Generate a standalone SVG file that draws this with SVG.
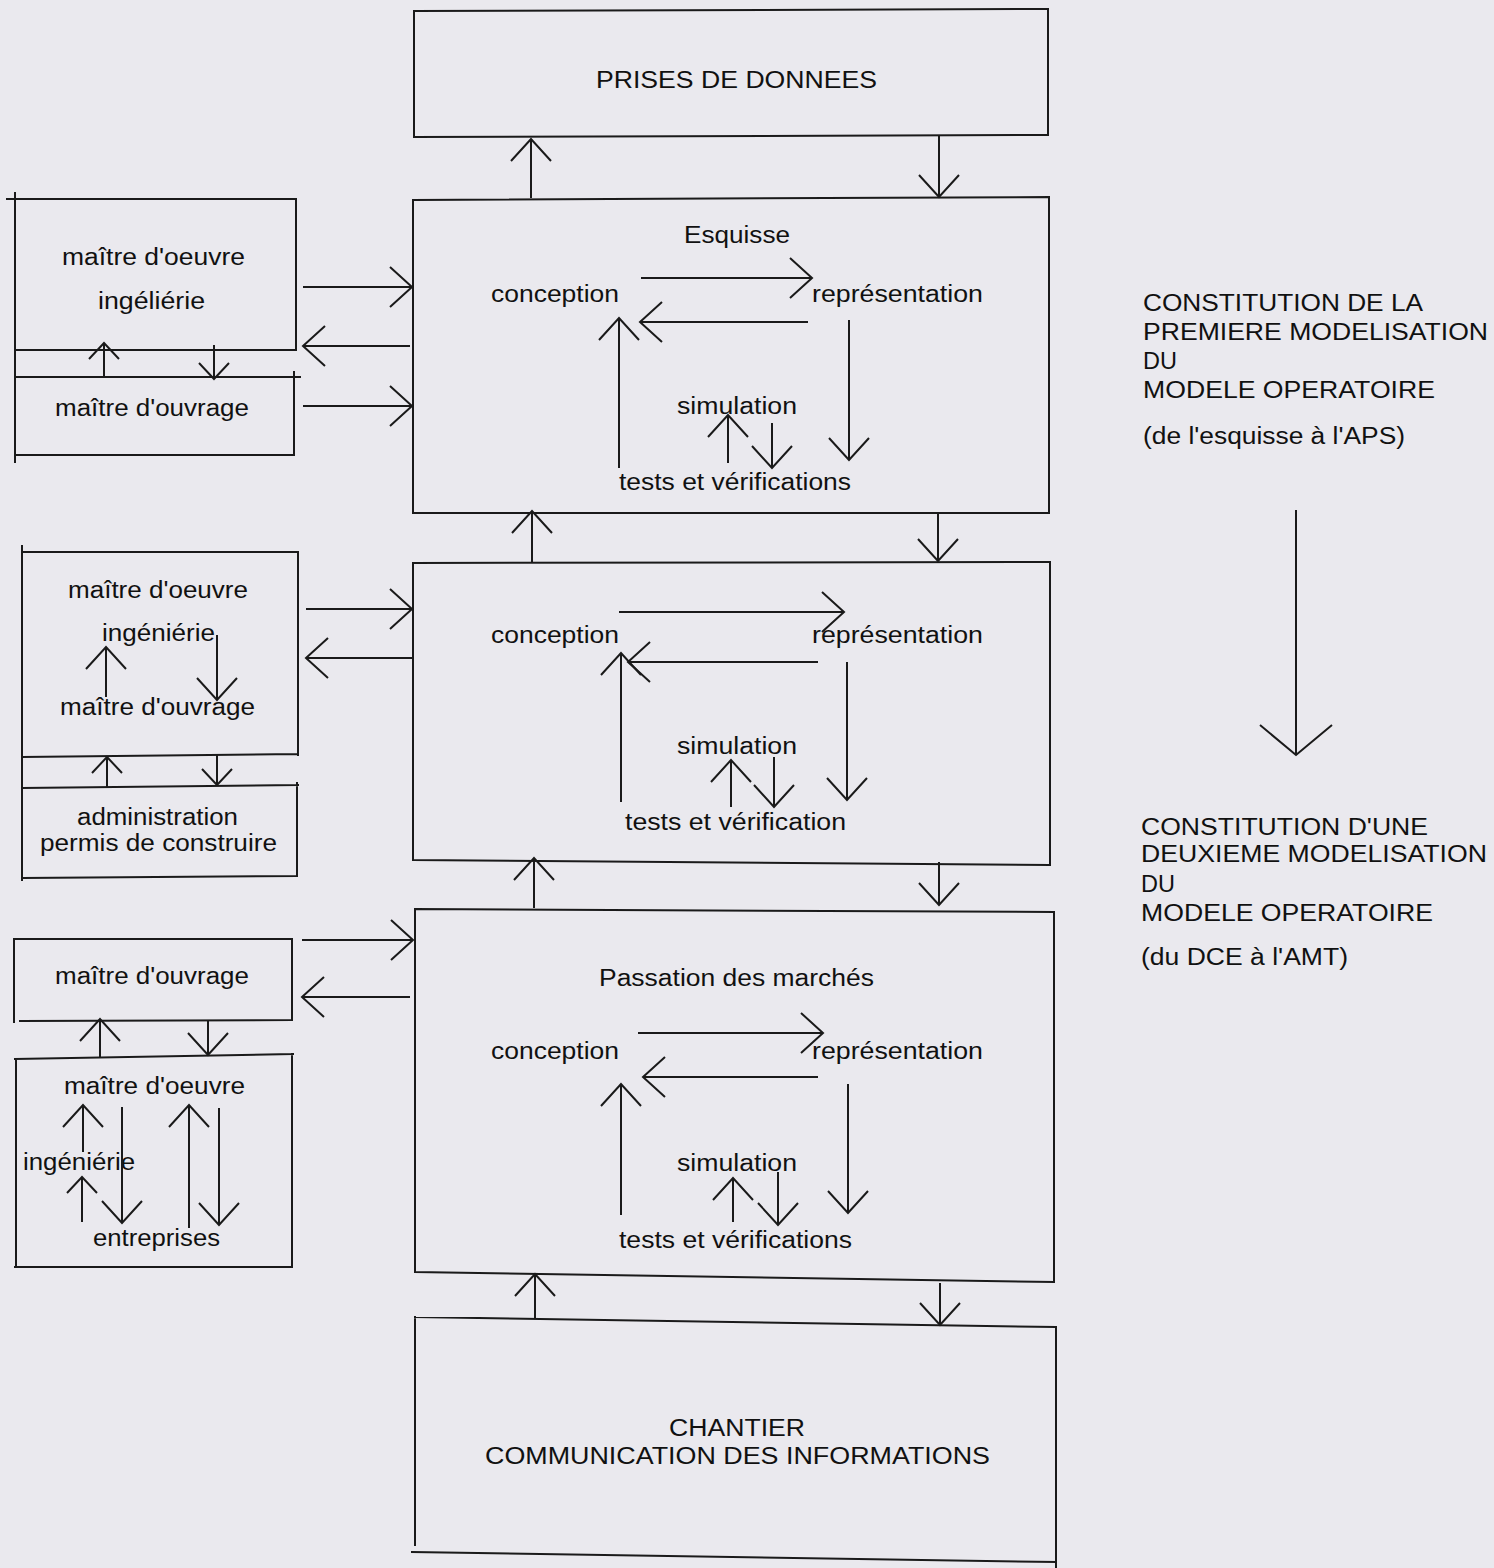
<svg xmlns="http://www.w3.org/2000/svg" width="1494" height="1568" viewBox="0 0 1494 1568">
<style>
.ln{fill:none;stroke:#1a1a1a;stroke-width:2;stroke-linecap:square}
.ar{fill:none;stroke:#1a1a1a;stroke-width:2;marker-end:url(#ah)}
.as{fill:none;stroke:#1a1a1a;stroke-width:2;marker-end:url(#as)}
.ab{fill:none;stroke:#1a1a1a;stroke-width:2;marker-end:url(#ab)}
text{font-family:"Liberation Sans",Arial,Helvetica,sans-serif;font-size:23.5px;fill:#111}
</style>
<defs>
<marker id="ah" markerUnits="userSpaceOnUse" viewBox="-2 -2 26 44" markerWidth="26" markerHeight="44" refX="22" refY="20" orient="auto">
<path d="M0,0 L22,20 L0,40" fill="none" stroke="#1a1a1a" stroke-width="2"/>
</marker>
<marker id="as" markerUnits="userSpaceOnUse" viewBox="-2 -2 20 34" markerWidth="20" markerHeight="34" refX="16" refY="15" orient="auto">
<path d="M0,0 L16,15 L0,30" fill="none" stroke="#1a1a1a" stroke-width="2"/>
</marker>
<marker id="ab" markerUnits="userSpaceOnUse" viewBox="-2 -2 34 76" markerWidth="34" markerHeight="76" refX="30" refY="36" orient="auto">
<path d="M0,0 L30,36 L0,72" fill="none" stroke="#1a1a1a" stroke-width="2"/>
</marker>
</defs>
<rect x="0" y="0" width="1494" height="1568" fill="#eae9ee"/>

<g id="n-prises">
<path class="ln" d="M414,11 L1048,9 L1048,135 L414,137 Z"/>
<text x="596" y="88" textLength="281" lengthAdjust="spacingAndGlyphs">PRISES DE DONNEES</text>
</g>

<g id="n-esquisse">
<path class="ln" d="M413,200 L1049,197 L1049,513 L413,513 Z"/>
<text x="684" y="243" textLength="106" lengthAdjust="spacingAndGlyphs">Esquisse</text>
<text x="491" y="302" textLength="128" lengthAdjust="spacingAndGlyphs">conception</text>
<text x="812" y="302" textLength="171" lengthAdjust="spacingAndGlyphs">représentation</text>
<text x="677" y="414" textLength="120" lengthAdjust="spacingAndGlyphs">simulation</text>
<text x="619" y="490" textLength="232" lengthAdjust="spacingAndGlyphs">tests et vérifications</text>
</g>

<g id="n-acteurs1">
<path class="ln" d="M7,199 L296,199 L296,350 M15,350 L296,350 M15,377 L300,377 M294,372 L294,455 L15,455 M15,193 L15,462"/>
<text x="62" y="265" textLength="183" lengthAdjust="spacingAndGlyphs">maître d'oeuvre</text>
<text x="98" y="309" textLength="107" lengthAdjust="spacingAndGlyphs">ingéliérie</text>
<text x="55" y="416" textLength="194" lengthAdjust="spacingAndGlyphs">maître d'ouvrage</text>
</g>

<g id="n-modelisation2">
<path class="ln" d="M413,563 L1050,562 L1050,865 L413,860 Z"/>
<text x="491" y="643" textLength="128" lengthAdjust="spacingAndGlyphs">conception</text>
<text x="812" y="643" textLength="171" lengthAdjust="spacingAndGlyphs">représentation</text>
<text x="677" y="754" textLength="120" lengthAdjust="spacingAndGlyphs">simulation</text>
<text x="625" y="830" textLength="221" lengthAdjust="spacingAndGlyphs">tests et vérification</text>
</g>

<g id="n-acteurs2">
<path class="ln" d="M22,552 L298,552 L298,755 M22,757 L298,754 M22,788 L298,785 M297,783 L297,876 L22,878 M22,546 L22,880"/>
<text x="68" y="598" textLength="180" lengthAdjust="spacingAndGlyphs">maître d'oeuvre</text>
<text x="102" y="641" textLength="113" lengthAdjust="spacingAndGlyphs">ingéniérie</text>
<text x="60" y="715" textLength="195" lengthAdjust="spacingAndGlyphs">maître d'ouvrage</text>
<text x="77" y="825" textLength="161" lengthAdjust="spacingAndGlyphs">administration</text>
<text x="40" y="851" textLength="237" lengthAdjust="spacingAndGlyphs">permis de construire</text>
</g>

<g id="n-passation">
<path class="ln" d="M415,909 L1054,912 L1054,1282 L415,1272 Z"/>
<text x="599" y="986" textLength="275" lengthAdjust="spacingAndGlyphs">Passation des marchés</text>
<text x="491" y="1059" textLength="128" lengthAdjust="spacingAndGlyphs">conception</text>
<text x="812" y="1059" textLength="171" lengthAdjust="spacingAndGlyphs">représentation</text>
<text x="677" y="1171" textLength="120" lengthAdjust="spacingAndGlyphs">simulation</text>
<text x="619" y="1248" textLength="233" lengthAdjust="spacingAndGlyphs">tests et vérifications</text>
</g>

<g id="n-acteurs3">
<path class="ln" d="M14,939 L292,939 L292,1020 M20,1021 L292,1020 M14,939 L14,1022 M15,1059 L293,1054 M16,1059 L16,1267 M292,1054 L292,1267 M15,1267 L292,1267"/>
<text x="55" y="984" textLength="194" lengthAdjust="spacingAndGlyphs">maître d'ouvrage</text>
<text x="64" y="1094" textLength="181" lengthAdjust="spacingAndGlyphs">maître d'oeuvre</text>
<text x="23" y="1170" textLength="112" lengthAdjust="spacingAndGlyphs">ingéniérie</text>
<text x="93" y="1246" textLength="127" lengthAdjust="spacingAndGlyphs">entreprises</text>
</g>

<g id="n-chantier">
<path class="ln" d="M415,1317 L1056,1327 M415,1317 L415,1545 M1056,1327 L1056,1568 M412,1552 L1056,1562"/>
<text x="669" y="1436" textLength="136" lengthAdjust="spacingAndGlyphs">CHANTIER</text>
<text x="485" y="1464" textLength="505" lengthAdjust="spacingAndGlyphs">COMMUNICATION DES INFORMATIONS</text>
</g>

<g id="n-phase1">
<text x="1143" y="311" textLength="280" lengthAdjust="spacingAndGlyphs">CONSTITUTION DE LA</text>
<text x="1143" y="340" textLength="345" lengthAdjust="spacingAndGlyphs">PREMIERE MODELISATION</text>
<text x="1143" y="369">DU</text>
<text x="1143" y="398" textLength="292" lengthAdjust="spacingAndGlyphs">MODELE OPERATOIRE</text>
<text x="1143" y="444" textLength="262" lengthAdjust="spacingAndGlyphs">(de l'esquisse à l'APS)</text>
</g>

<g id="n-phase2">
<text x="1141" y="835" textLength="287" lengthAdjust="spacingAndGlyphs">CONSTITUTION D'UNE</text>
<text x="1141" y="862" textLength="346" lengthAdjust="spacingAndGlyphs">DEUXIEME MODELISATION</text>
<text x="1141" y="892">DU</text>
<text x="1141" y="921" textLength="292" lengthAdjust="spacingAndGlyphs">MODELE OPERATOIRE</text>
<text x="1141" y="965" textLength="207" lengthAdjust="spacingAndGlyphs">(du DCE à l'AMT)</text>
</g>

<g id="connectors">
<path class="ar" d="M531,198 L531,139"/>
<path class="ar" d="M939,135 L939,197"/>
<path class="ar" d="M303,287 L412,287"/>
<path class="ar" d="M410,346 L303,346"/>
<path class="ar" d="M303,406 L412,406"/>
<path class="as" d="M104,377 L104,343"/>
<path class="as" d="M214,345 L214,379"/>
<path class="ar" d="M641,278 L812,278"/>
<path class="ar" d="M808,322 L640,322"/>
<path class="ar" d="M619,468 L619,318"/>
<path class="ar" d="M849,320 L849,460"/>
<path class="ar" d="M728,463 L728,415"/>
<path class="ar" d="M772,423 L772,468"/>
<path class="ar" d="M532,563 L532,511"/>
<path class="ar" d="M938,513 L938,561"/>
<path class="ar" d="M306,609 L412,609"/>
<path class="ar" d="M413,658 L306,658"/>
<path class="ar" d="M106,697 L106,647"/>
<path class="ar" d="M217,635 L217,700"/>
<path class="as" d="M107,787 L107,757"/>
<path class="as" d="M217,755 L217,785"/>
<path class="ar" d="M619,612 L844,612"/>
<path class="ar" d="M818,662 L628,662"/>
<path class="ar" d="M621,802 L621,653"/>
<path class="ar" d="M847,662 L847,800"/>
<path class="ar" d="M731,807 L731,760"/>
<path class="ar" d="M774,757 L774,807"/>
<path class="ar" d="M534,908 L534,858"/>
<path class="ar" d="M939,862 L939,905"/>
<path class="ar" d="M302,940 L413,940"/>
<path class="ar" d="M410,997 L302,997"/>
<path class="ar" d="M100,1057 L100,1019"/>
<path class="ar" d="M208,1021 L208,1055"/>
<path class="ar" d="M83,1152 L83,1105"/>
<path class="ar" d="M122,1107 L122,1223"/>
<path class="as" d="M82,1222 L82,1177"/>
<path class="ar" d="M189,1228 L189,1105"/>
<path class="ar" d="M219,1108 L219,1225"/>
<path class="ar" d="M638,1033 L823,1033"/>
<path class="ar" d="M818,1077 L643,1077"/>
<path class="ar" d="M621,1215 L621,1084"/>
<path class="ar" d="M848,1084 L848,1213"/>
<path class="ar" d="M733,1222 L733,1178"/>
<path class="ar" d="M778,1172 L778,1225"/>
<path class="ar" d="M535,1318 L535,1274"/>
<path class="ar" d="M940,1283 L940,1325"/>
<path class="ab" d="M1296,510 L1296,755"/>
</g>
</svg>
